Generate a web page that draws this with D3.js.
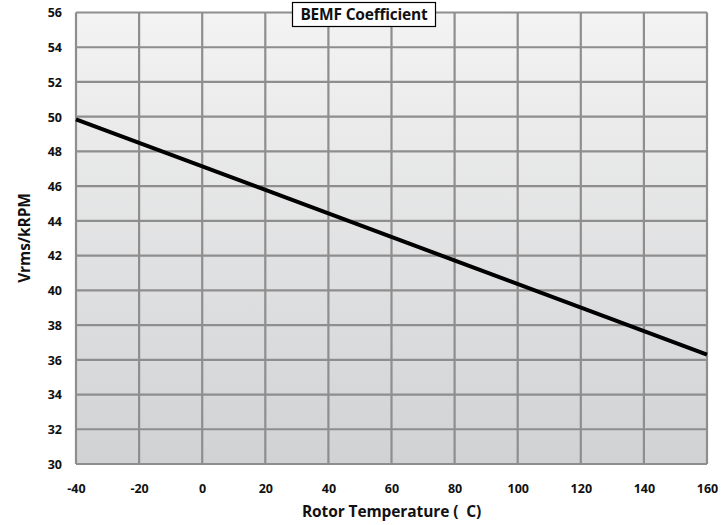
<!DOCTYPE html>
<html><head><meta charset="utf-8">
<script src="https://cdn.jsdelivr.net/npm/d3@7"></script>
<style>body{margin:0;background:#fff}svg{display:block}text{font-family:"Open Sans",sans-serif;font-weight:700;fill:#111;white-space:pre}</style>
</head><body><svg id="c" width="721" height="525"></svg>
<script>
const temps = [-40, 160];
const bemf = [49.85, 36.3];
const xTicks = [-40,-20,0,20,40,60,80,100,120,140,160];
const yTicks = [30,32,34,36,38,40,42,44,46,48,50,52,54,56];
const title = "BEMF Coefficient";
const xTitle = "Rotor Temperature (  C)";
const yTitle = "Vrms/kRPM";

const svg = d3.select("#c");
const m = {l:76, r:707, t:12.5, b:464};
const x = d3.scaleLinear().domain([-40,160]).range([m.l,m.r]);
const y = d3.scaleLinear().domain([30,56]).range([m.b,m.t]);

const defs = svg.append("defs");
const g = defs.append("linearGradient").attr("id","bg").attr("x1",0).attr("x2",0).attr("y1",0).attr("y2",1);
g.append("stop").attr("offset","0%").attr("stop-color","#f3f3f3");
g.append("stop").attr("offset","100%").attr("stop-color","#d1d2d4");
svg.append("rect").attr("x",m.l).attr("y",m.t).attr("width",m.r-m.l).attr("height",m.b-m.t).attr("fill","url(#bg)");

const grid = svg.append("g").attr("stroke","#8e8e8e").attr("stroke-width",2.2);
grid.selectAll(".v").data(xTicks).join("line").attr("x1",d=>x(d)).attr("x2",d=>x(d)).attr("y1",m.t).attr("y2",m.b);
grid.selectAll(".h").data(yTicks).join("line").attr("y1",d=>y(d)).attr("y2",d=>y(d)).attr("x1",m.l).attr("x2",m.r);

const fmt = d => String(d);
const xa = svg.append("g").attr("transform",`translate(0,${m.b+25})`)
  .call(d3.axisBottom(x).tickValues(xTicks).tickSize(0).tickPadding(0).tickFormat(fmt));
xa.select(".domain").remove();
xa.selectAll("text").attr("font-size",12.5).attr("dy","0.35em").style("font-family","'Open Sans',sans-serif").style("font-weight",700).attr("fill","#111");

const ya = svg.append("g").attr("transform",`translate(${m.l-14},0)`)
  .call(d3.axisLeft(y).tickValues(yTicks).tickSize(0).tickPadding(0).tickFormat(fmt));
ya.select(".domain").remove();
ya.selectAll("text").attr("font-size",12.5).attr("dy","0.35em").style("font-family","'Open Sans',sans-serif").style("font-weight",700).attr("fill","#111");

const pts = temps.map((t,i)=>[t,bemf[i]]);
svg.append("path").datum(pts).attr("fill","none").attr("stroke","#000").attr("stroke-width",4)
  .attr("d", d3.line().x(d=>x(d[0])).y(d=>y(d[1])));

// title box
svg.append("rect").attr("x",292.5).attr("y",2.5).attr("width",143).attr("height",24).attr("fill","#fff").attr("stroke","#000").attr("stroke-width",1.2);
svg.append("text").attr("x",364).attr("y",15).attr("dy","0.35em").attr("text-anchor","middle").attr("font-size",15.5).attr("letter-spacing","-0.2").text(title);

svg.append("text").attr("x",(m.l+m.r)/2).attr("y",512).attr("dy","0.35em").attr("text-anchor","middle").attr("font-size",15.5).attr("letter-spacing","-0.1").text(xTitle);
svg.append("text").attr("transform",`translate(25,${238}) rotate(-90)`).attr("dy","0.35em").attr("text-anchor","middle").attr("font-size",15.5).attr("letter-spacing","-0.1").text(yTitle);
</script></body></html>
